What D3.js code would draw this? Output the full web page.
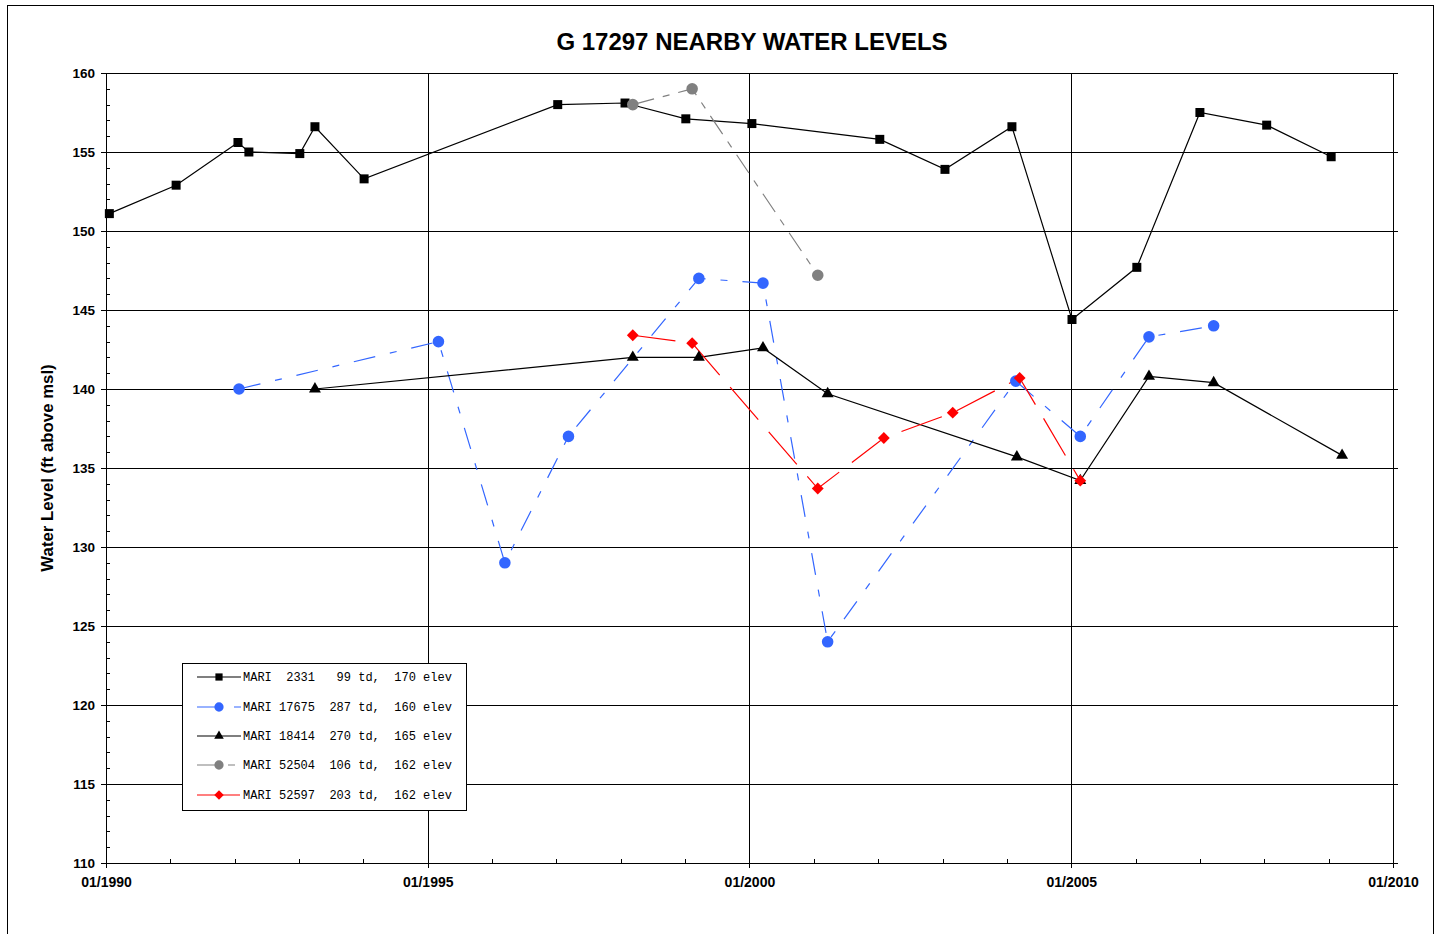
<!DOCTYPE html>
<html>
<head>
<meta charset="utf-8">
<script src="https://cdn.jsdelivr.net/npm/d3@7"></script>
<style>
  body { margin: 0; background: #fff; }
  .axis text { font-family: "Liberation Sans", Arial, sans-serif; font-weight: bold; font-size: 13.5px; fill: #000; }
  .axis--x text { font-size: 14px; }
  .axis path, .axis line { stroke: #000; shape-rendering: crispEdges; }
  .grid line { stroke: #000; shape-rendering: crispEdges; }
  .grid path { display: none; }
  .legend text { font-family: "Liberation Mono", "Courier New", monospace; font-size: 12px; fill: #000; white-space: pre; }
</style>
</head>
<body>
<div class="chart"></div>
<script>
// series data
var dates2331 = ['1990-01-20', '1991-02-03', '1992-01-20', '1992-03-22', '1993-01-05', '1993-04-01', '1994-01-05',
    '1997-01-08', '1998-01-25', '1999-01-05', '2000-01-15', '2002-01-10', '2003-01-15', '2004-01-30',
    '2005-01-05', '2006-01-08', '2007-01-01', '2008-01-15', '2009-01-15'];
var levels2331 = [151.1, 152.9, 155.6, 155.0, 154.9, 156.6, 153.3, 158.0, 158.1, 157.1, 156.8, 155.8, 153.9, 156.6,
    144.4, 147.7, 157.5, 156.7, 154.7];

var dates17675 = ['1992-01-26', '1995-03-03', '1996-03-14', '1997-03-10', '1999-03-20', '2000-03-18', '2001-03-20',
    '2004-02-21', '2005-02-21', '2006-03-18', '2007-03-20'];
var levels17675 = [140.0, 143.0, 129.0, 137.0, 147.0, 146.7, 124.0, 140.5, 137.0, 143.3, 144.0];

var dates18414 = ['1993-04-01', '1998-03-10', '1999-03-20', '2000-03-18', '2001-03-20', '2004-02-27', '2005-02-21',
    '2006-03-18', '2007-03-20', '2009-03-18'];
var levels18414 = [140.0, 142.0, 142.0, 142.6, 139.7, 135.7, 134.2, 140.8, 140.4, 135.8];

var dates52504 = ['1998-03-10', '1999-02-10', '2001-01-23'];
var levels52504 = [158.0, 159.0, 147.2];

var dates52597 = ['1998-03-10', '1999-02-10', '2001-01-23', '2002-02-02', '2003-02-28', '2004-03-14', '2005-02-21'];
var levels52597 = [143.4, 142.9, 133.7, 136.9, 138.5, 140.7, 134.2];

var seriesLabels = [
    'MARI  2331   99 td,  170 elev',
    'MARI 17675  287 td,  160 elev',
    'MARI 18414  270 td,  165 elev',
    'MARI 52504  106 td,  162 elev',
    'MARI 52597  203 td,  162 elev'
];

var yTicks = [110, 115, 120, 125, 130, 135, 140, 145, 150, 155, 160];
var xTickYears = [1990, 1995, 2000, 2005, 2010];

var title = 'G 17297 NEARBY WATER LEVELS';
var yLabel = 'Water Level (ft above msl)';

// layout
var totalWidth = 1439, totalHeight = 934;
var margin = {top: 73, right: 46, bottom: 71, left: 106};
var width = totalWidth - margin.left - margin.right;
var height = totalHeight - margin.top - margin.bottom;
var parseDate = d3.timeParse('%Y-%m-%d');

function zip(dates, levels) {
    return dates.map((d, i) => ({date: parseDate(d), value: levels[i]}));
}

var series = [
    {data: zip(dates2331, levels2331), color: '#000', dash: null, shape: 'square'},
    {data: zip(dates17675, levels17675), color: '#3366ff', dash: '22,15,7,15', shape: 'circle'},
    {data: zip(dates18414, levels18414), color: '#000', dash: null, shape: 'triangle'},
    {data: zip(dates52504, levels52504), color: '#808080', dash: '22,9,7,9', shape: 'circle2'},
    {data: zip(dates52597, levels52597), color: '#ff0000', dash: '43,16', shape: 'diamond'}
];

var xScale = d3.scaleTime()
    .domain([new Date(1990, 0, 1), new Date(2010, 0, 1)])
    .range([0, width]);

var yScale = d3.scaleLinear()
    .domain([110, 160])
    .range([height, 0]);

function symbolPath(shape) {
    if (shape === 'square') return d3.symbol(d3.symbolSquare, 81)();
    if (shape === 'triangle') return d3.symbol(d3.symbolTriangle, 62)();
    if (shape === 'diamond') return d3.symbol(d3.symbolSquare, 70)();
    return d3.symbol(d3.symbolCircle, 105)();
}

var root = d3.select('.chart').append('svg')
    .attr('width', totalWidth)
    .attr('height', totalHeight);

// outer frame
root.append('rect')
    .attr('x', 7.5).attr('y', 5.5)
    .attr('width', 1426).attr('height', 960)
    .attr('fill', 'none')
    .attr('stroke', '#000');

root.append('text')
    .attr('x', 752).attr('y', 50)
    .attr('text-anchor', 'middle')
    .style('font-family', '"Liberation Sans", Arial, sans-serif')
    .style('font-weight', 'bold')
    .style('font-size', '24px')
    .text(title);

root.append('text')
    .attr('transform', 'translate(53,468) rotate(-90)')
    .attr('text-anchor', 'middle')
    .style('font-family', '"Liberation Sans", Arial, sans-serif')
    .style('font-weight', 'bold')
    .style('font-size', '16.8px')
    .text(yLabel);

var svg = root.append('g')
    .attr('transform', `translate(${margin.left},${margin.top})`);

// gridlines
svg.append('g')
    .attr('class', 'grid')
    .call(d3.axisLeft(yScale).tickValues(yTicks.slice(1)).tickSize(-width).tickFormat(''));

svg.append('g')
    .attr('class', 'grid')
    .attr('transform', `translate(0,${height})`)
    .call(d3.axisBottom(xScale)
        .tickValues([1995, 2000, 2005].map(y => new Date(y, 0, 1)))
        .tickSize(-height).tickFormat(''));

// axes
svg.append('g')
    .attr('class', 'axis axis--y')
    .call(d3.axisLeft(yScale).tickValues(yTicks).tickSize(5).tickPadding(6).tickSizeOuter(0));

svg.append('g')
    .attr('class', 'axis')
    .call(d3.axisRight(yScale)
        .tickValues(d3.range(110, 161).filter(v => v % 5 !== 0))
        .tickSize(4).tickFormat(''))
    .select('.domain').remove();

svg.append('g')
    .attr('class', 'axis')
    .attr('transform', `translate(${width},0)`)
    .call(d3.axisRight(yScale).tickValues(yTicks).tickSize(5).tickFormat('').tickSizeOuter(0));

svg.append('g')
    .attr('class', 'axis axis--x')
    .attr('transform', `translate(0,${height})`)
    .call(d3.axisBottom(xScale)
        .tickValues(xTickYears.map(y => new Date(y, 0, 1)))
        .tickSize(5).tickPadding(9).tickSizeOuter(0)
        .tickFormat(d3.timeFormat('%m/%Y')))
    .select('.domain').attr('d', `M0,0.5H${width + 5}`);

svg.append('g')
    .attr('class', 'axis')
    .attr('transform', `translate(0,${height})`)
    .call(d3.axisTop(xScale).ticks(d3.timeYear.every(1)).tickSize(4).tickFormat(''))
    .select('.domain').remove();

// series
var line = d3.line()
    .x(d => xScale(d.date))
    .y(d => yScale(d.value));

series.forEach(function(s) {
    svg.append('path')
        .datum(s.data)
        .attr('fill', 'none')
        .attr('stroke', s.color)
        .attr('stroke-width', 1.2)
        .attr('stroke-dasharray', s.dash)
        .attr('d', line);
});

series.forEach(function(s) {
    svg.selectAll(null)
        .data(s.data)
        .enter().append('path')
        .attr('d', symbolPath(s.shape))
        .attr('fill', s.color)
        .attr('transform', d => `translate(${xScale(d.date)},${yScale(d.value)})` +
            (s.shape === 'diamond' ? ' rotate(45)' : ''));
});

// legend
var legend = root.append('g')
    .attr('class', 'legend')
    .attr('transform', 'translate(182,663)');

legend.append('rect')
    .attr('x', 0.5).attr('y', 0.5)
    .attr('width', 284).attr('height', 147)
    .attr('fill', '#fff')
    .attr('stroke', '#000');

var rows = legend.selectAll('.row')
    .data(series)
    .enter().append('g')
    .attr('class', 'row')
    .attr('transform', (d, i) => `translate(0,${[14, 44, 73, 102, 132][i]})`);

rows.append('line')
    .attr('x1', 15).attr('x2', 59)
    .attr('stroke', d => d.color)
    .attr('stroke-width', 1.2)
    .attr('stroke-dasharray', d => d.dash);

rows.append('path')
    .attr('d', d => symbolPath(d.shape))
    .attr('fill', d => d.color)
    .attr('transform', d => 'translate(37,0) scale(0.8)' + (d.shape === 'diamond' ? ' rotate(45)' : ''));

rows.append('text')
    .attr('x', 61).attr('y', 4)
    .text((d, i) => seriesLabels[i]);
</script>
</body>
</html>
